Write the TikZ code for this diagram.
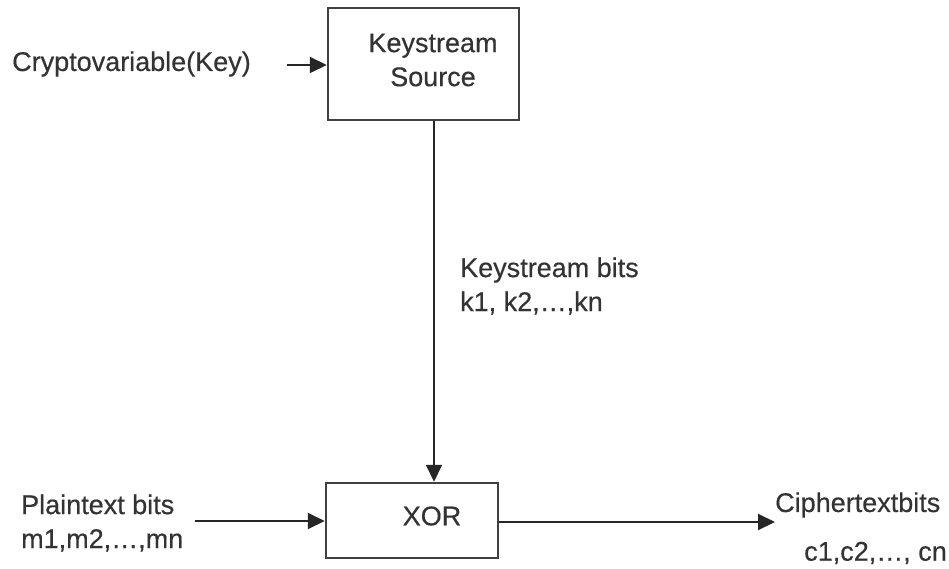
\documentclass[tikz,border=0pt]{standalone}
\usepackage{fontspec}
\setmainfont{Liberation Sans}[FakeBold=0.4]
\usetikzlibrary{arrows.meta}
\begin{document}
\begin{tikzpicture}[x=1pt,y=-1pt,
  lbl/.style={font=\fontsize{27}{34}\selectfont, text=black!80, inner sep=0pt},
  blk/.style={draw=black!75, line width=2.5pt, inner sep=0pt},
  con/.style={draw=black!85, line width=2pt, -{Triangle[length=17pt,width=16pt]}}]
\useasboundingbox[fill=white] (0,0) rectangle (949,569);
\node[blk, minimum width=191pt, minimum height=112pt] (ks) at (423.5,64) {};
\node[lbl, align=center] (kst) at (433,60) {Keystream\\Source};
\node[blk, minimum width=172pt, minimum height=75pt] (xor) at (412,520.5) {};
\node[lbl] (xort) at (432,516) {XOR};
\node[lbl, anchor=west] (key) at (12,64) {Cryptovariable(Key)};
\coordinate (keyend) at (287,65);
\node[lbl, anchor=west, align=left] (kb) at (460,286) {Keystream bits\\k1, k2,\ldots,kn};
\node[lbl, anchor=west, align=left] (pt) at (21,523) {Plaintext bits\\m1,m2,\ldots,mn};
\coordinate (ptend) at (195,521);
\node[lbl, anchor=west] (ct) at (775,505) {Ciphertextbits};
\node[lbl, anchor=east] (cn) at (947,553) {c1,c2,\ldots, cn};
\coordinate (ctend) at (775,522);
\draw[con] (keyend) -- (ks.west |- keyend);
\draw[con] (ks.south -| 434,0) -- (xor.north -| 434,0);
\draw[con] (ptend) -- (xor.west |- ptend);
\draw[con] (xor.east |- ctend) -- (ctend);
\end{tikzpicture}
\end{document}
